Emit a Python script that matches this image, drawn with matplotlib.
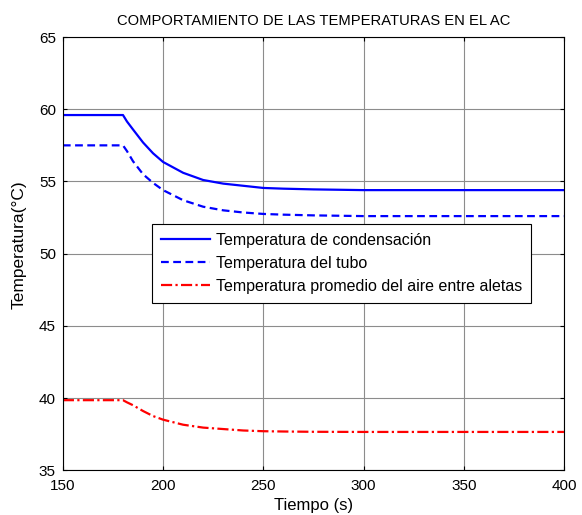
import matplotlib
matplotlib.use("Agg")
import matplotlib.pyplot as plt

plt.rcParams['font.family'] = ['Liberation Sans', 'DejaVu Sans']

tiempo = [150, 180, 182, 185, 190, 195, 200, 210, 220, 230, 240, 250, 260, 275, 300, 400]
t_cond = [59.6, 59.6, 59.15, 58.6, 57.7, 56.95, 56.35, 55.6, 55.1, 54.85, 54.7, 54.55, 54.5, 54.45, 54.4, 54.4]
t_tubo = [57.5, 57.5, 57.1, 56.4, 55.5, 54.9, 54.4, 53.7, 53.25, 53.0, 52.85, 52.75, 52.7, 52.65, 52.6, 52.6]
t_aire = [39.85, 39.85, 39.7, 39.5, 39.1, 38.75, 38.5, 38.15, 37.95, 37.85, 37.75, 37.7, 37.68, 37.66, 37.65, 37.65]

labels = ["Temperatura de condensación", "Temperatura del tubo",
          "Temperatura promedio del aire entre aletas"]
xticks = [150, 200, 250, 300, 350, 400]
yticks = [35, 40, 45, 50, 55, 60, 65]

fig = plt.figure(figsize=(5.82, 5.15), dpi=100)
ax = fig.add_axes([0.108, 0.087, 0.861, 0.841])

ax.plot(tiempo, t_cond, color='#0000ff', lw=1.6, ls='-', label=labels[0])
ax.plot(tiempo, t_tubo, color='#0000ff', lw=1.6, ls=(0, (3.5, 2)), label=labels[1])
ax.plot(tiempo, t_aire, color='#ff0000', lw=1.6, ls=(0, (5, 1.5, 1, 1.5)), label=labels[2])

ax.set_xlim(150, 400)
ax.set_ylim(35, 65)
ax.set_xticks(xticks)
ax.set_yticks(yticks)
ax.grid(True, color='#8c8c8c', lw=0.8)
ax.tick_params(direction='in', length=3, labelsize=11, top=True, right=True)
ax.tick_params(axis='x', pad=6)
ax.tick_params(axis='y', pad=5)
for s in ax.spines.values():
    s.set_linewidth(0.8)

ax.set_title("COMPORTAMIENTO DE LAS TEMPERATURAS EN EL AC", fontsize=10.6, pad=9)
ax.set_xlabel("Tiempo (s)", fontsize=12, labelpad=4)
ax.set_ylabel("Temperatura(°C)", fontsize=12.5, labelpad=4)
ax.yaxis.set_label_coords(-0.073, 0.52)

leg = ax.legend(loc='upper left', bbox_to_anchor=(0.178, 0.568), fontsize=11.5,
                frameon=True, fancybox=False, edgecolor='black', framealpha=1,
                handlelength=3.06, borderpad=0.55, labelspacing=0.5, handletextpad=0.37,
                borderaxespad=0)
leg.get_frame().set_linewidth(0.8)

fig.savefig("out.png", dpi=100)
